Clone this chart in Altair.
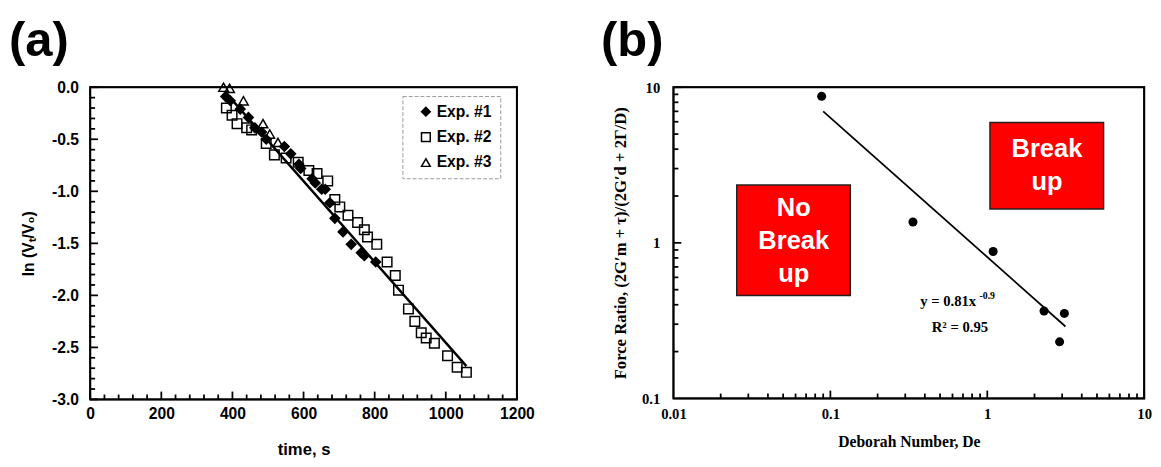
import altair as alt
import pandas as pd

# ---------------- data: panel (a) ----------------
series_names = ["Exp. #1", "Exp. #2", "Exp. #3"]

exp1_t = [381, 394, 422, 445, 463, 482, 495, 546, 564, 587, 592, 624, 633, 651, 661,
          674, 688, 711, 734, 762, 771, 803]
exp1_v = [-0.09, -0.13, -0.21, -0.29, -0.39, -0.43, -0.50, -0.57, -0.64, -0.74, -0.78,
          -0.88, -0.92, -0.98, -0.98, -1.11, -1.26, -1.39, -1.51, -1.59, -1.62, -1.68]

exp2_t = [383, 399, 413, 440, 454, 495, 518, 551, 585, 615, 638, 668, 688, 702, 725,
          752, 771, 780, 806, 835, 858, 867, 895, 913, 931, 945, 968, 1005, 1032, 1058]
exp2_v = [-0.20, -0.27, -0.35, -0.39, -0.41, -0.54, -0.65, -0.68, -0.72, -0.80, -0.83,
          -0.90, -1.08, -1.15, -1.23, -1.30, -1.37, -1.44, -1.51, -1.68, -1.81, -1.95,
          -2.13, -2.25, -2.36, -2.41, -2.46, -2.58, -2.69, -2.74]

exp3_t = [375, 392, 431, 486, 505, 528]
exp3_v = [0.0, -0.01, -0.13, -0.35, -0.45, -0.53]

fit_a_t = [378, 1058]
fit_a_v = [-0.04, -2.68]

xa_labels = [0, 200, 400, 600, 800, 1000, 1200]
xa_minor = [40, 80, 120, 160, 240, 280, 320, 360, 440, 480, 520, 560, 640, 680, 720,
            760, 840, 880, 920, 960, 1040, 1080, 1120, 1160]
ya_labels = [-3.0, -2.5, -2.0, -1.5, -1.0, -0.5, 0.0]
ya_minor = [-2.9, -2.8, -2.7, -2.6, -2.4, -2.3, -2.2, -2.1, -1.9, -1.8, -1.7, -1.6,
            -1.4, -1.3, -1.2, -1.1, -0.9, -0.8, -0.7, -0.6, -0.4, -0.3, -0.2, -0.1]

# ---------------- data: panel (b) ----------------
de_vals = [0.088, 0.336, 1.09, 2.30, 2.89, 3.10]
fr_vals = [8.74, 1.36, 0.88, 0.365, 0.231, 0.352]
fit_b_de = [0.09, 3.15]
fit_b_fr = [7.0, 0.29]

xb_labels = [0.01, 0.1, 1, 10]
xb_minor = [0.02, 0.03, 0.04, 0.05, 0.06, 0.07, 0.08, 0.09,
            0.2, 0.3, 0.4, 0.5, 0.6, 0.7, 0.8, 0.9,
            2, 3, 4, 5, 6, 7, 8, 9]
yb_labels = [0.1, 1, 10]
yb_minor = [0.2, 0.3, 0.4, 0.5, 0.6, 0.7, 0.8, 0.9,
            2, 3, 4, 5, 6, 7, 8, 9]

FONT_A = "Liberation Sans"
FONT_B = "Liberation Serif"
W_A, H_A = 436, 319
W_B, H_B = 481, 318
XA_DOM, YA_DOM = [0, 1200], [-3, 0]
XB_DOM, YB_DOM = [0.01, 10], [0.1, 10]

common = dict(ticks=False, domain=False, grid=False, labelOverlap=False, labelFlush=False,
              labelColor="black", titleColor="black", labelFontWeight="bold",
              titleFontWeight="bold")

# ---------------- shared scales / axes ----------------
xs_a = alt.Scale(domain=XA_DOM, nice=False, zero=False)
ys_a = alt.Scale(domain=YA_DOM, nice=False, zero=False)
ax_xa = alt.Axis(values=xa_labels, format="d", title="time, s", orient="bottom",
                 labelFont=FONT_A, labelFontSize=16, labelPadding=7,
                 titleFont=FONT_A, titleFontSize=17, titlePadding=20, **common)
ax_ya = alt.Axis(values=ya_labels, title="ln (Vₜ/V₀)", orient="left",
                 labelExpr="replace(format(datum.value, '.1f'), '\u2212', '-')",
                 labelFont=FONT_A, labelFontSize=16, labelPadding=12,
                 titleFont=FONT_A, titleFontSize=16, titlePadding=15, **common)

xs_b = alt.Scale(type="log", domain=XB_DOM, nice=False)
ys_b = alt.Scale(type="log", domain=YB_DOM, nice=False)
ax_xb = alt.Axis(values=xb_labels, format="~g", title="Deborah Number, De", orient="bottom",
                 labelFont=FONT_B, labelFontSize=15, labelPadding=9,
                 titleFont=FONT_B, titleFontSize=16, titlePadding=12, **common)
ax_yb = alt.Axis(values=yb_labels, format="~g", orient="left",
                 title="Force Ratio, (2G′m + τ)/(2G′d + 2Γ/D)",
                 labelFont=FONT_B, labelFontSize=15, labelPadding=14,
                 titleFont=FONT_B, titleFontSize=17, titlePadding=12, **common)


def px_to_data(dom, npx, length, log):
    """Data value lying `length` pixels inside the lower end of a domain."""
    if log:
        return dom[0] * (dom[1] / dom[0]) ** (length / npx)
    return dom[0] + (dom[1] - dom[0]) * length / npx


def deco_frame(xdom, ydom, w, h, log, xmaj, xmin, ymaj, ymin):
    """Frame and inward ticks as short line segments (one group per segment)."""
    recs = []
    g = 0
    for seq in ([(xdom[0], ydom[0]), (xdom[1], ydom[0]), (xdom[1], ydom[1]),
                 (xdom[0], ydom[1]), (xdom[0], ydom[0])],):
        for i, (x, y) in enumerate(seq):
            recs.append({"x": x, "y": y, "g": g, "i": i, "w": 2.0})
        g += 1
    for vals, length in ((xmaj, 8), (xmin, 5)):
        yin = px_to_data(ydom, h, length, log)
        for v in vals:
            recs.append({"x": v, "y": ydom[0], "g": g, "i": 0, "w": 1.5})
            recs.append({"x": v, "y": yin, "g": g, "i": 1, "w": 1.5})
            g += 1
    for vals, length in ((ymaj, 8), (ymin, 5)):
        xin = px_to_data(xdom, w, length, log)
        for v in vals:
            recs.append({"x": xdom[0], "y": v, "g": g, "i": 0, "w": 1.5})
            recs.append({"x": xin, "y": v, "g": g, "i": 1, "w": 1.5})
            g += 1
    return pd.DataFrame(recs)


# ---------------- panel (a) ----------------
rows = []
for name, ts, vs in zip(series_names, [exp1_t, exp2_t, exp3_t], [exp1_v, exp2_v, exp3_v]):
    for t, v in zip(ts, vs):
        rows.append({"t": t, "v": v, "series": name})
df_a = pd.DataFrame(rows)

leg = alt.Legend(title=None, orient="none", legendX=319, legendY=9,
                 labelFont=FONT_A, labelFontSize=16, labelFontWeight="bold",
                 labelColor="black", strokeColor="#999999", padding=8,
                 rowPadding=10, symbolSize=80, symbolStrokeWidth=1.5,
                 symbolOffset=8, labelOffset=3)

pts_a = alt.Chart(df_a).mark_point(filled=False, color="black", strokeWidth=1.5,
                                   opacity=1, size=95).encode(
    x=alt.X("t:Q", scale=xs_a, axis=ax_xa),
    y=alt.Y("v:Q", scale=ys_a, axis=ax_ya),
    shape=alt.Shape("series:N", scale=alt.Scale(domain=series_names,
                                                range=["diamond", "square", "triangle-up"]),
                    legend=leg),
    fill=alt.Fill("series:N", scale=alt.Scale(domain=series_names,
                                              range=["black", "transparent", "transparent"]),
                  legend=leg),
)

fit_a = alt.Chart(pd.DataFrame({"t": fit_a_t, "v": fit_a_v})).mark_line(
    color="black", strokeWidth=2.5).encode(
    x=alt.X("t:Q", scale=xs_a, axis=ax_xa), y=alt.Y("v:Q", scale=ys_a, axis=ax_ya))

deco_a = alt.Chart(deco_frame(XA_DOM, YA_DOM, W_A, H_A, False, xa_labels, xa_minor,
                              ya_labels, ya_minor)).mark_line(
    color="black", strokeWidth=1.8).encode(
    x=alt.X("x:Q", scale=xs_a, axis=ax_xa), y=alt.Y("y:Q", scale=ys_a, axis=ax_ya),
    detail="g:N", order="i:Q")

label_a = alt.Chart(pd.DataFrame({"lab": ["(a)"]})).mark_text(
    align="left", baseline="alphabetic", fontSize=50, fontWeight="bold", font=FONT_A,
    color="black").encode(text="lab:N", x=alt.value(-83), y=alt.value(-32))

chart_a = alt.layer(fit_a, deco_a, pts_a, label_a).properties(width=W_A, height=H_A)

# ---------------- panel (b) ----------------
pts_b = alt.Chart(pd.DataFrame({"de": de_vals, "fr": fr_vals})).mark_circle(
    color="black", size=85, opacity=1).encode(
    x=alt.X("de:Q", scale=xs_b, axis=ax_xb), y=alt.Y("fr:Q", scale=ys_b, axis=ax_yb))

fit_b = alt.Chart(pd.DataFrame({"de": fit_b_de, "fr": fit_b_fr})).mark_line(
    color="black", strokeWidth=1.8).encode(
    x=alt.X("de:Q", scale=xs_b, axis=ax_xb), y=alt.Y("fr:Q", scale=ys_b, axis=ax_yb))

deco_b = alt.Chart(deco_frame(XB_DOM, YB_DOM, W_B, H_B, True, xb_labels[1:], xb_minor,
                              yb_labels[1:], yb_minor)).mark_line(
    color="black", strokeWidth=1.8).encode(
    x=alt.X("x:Q", scale=xs_b, axis=ax_xb), y=alt.Y("y:Q", scale=ys_b, axis=ax_yb),
    detail="g:N", order="i:Q")

# annotation boxes, in the panel's data coordinates (text y = first line)
boxes = pd.DataFrame({
    "x1": [0.0253, 1.04], "x2": [0.134, 5.51],
    "y1": [0.459, 1.65], "y2": [2.35, 5.94],
    "xc": [0.0584, 2.40], "yc": [1.672, 3.99],
    "txt": ["No\nBreak\nup", "Break\nup"],
})
rect_b = alt.Chart(boxes).mark_rect(fill="#ff0000", stroke="#222222", strokeWidth=1.5).encode(
    x=alt.X("x1:Q", scale=xs_b, axis=ax_xb), x2="x2:Q",
    y=alt.Y("y1:Q", scale=ys_b, axis=ax_yb), y2="y2:Q")
rect_txt = alt.Chart(boxes).mark_text(
    lineBreak="\n", lineHeight=34, fontSize=26, fontWeight="bold", font=FONT_A,
    color="white", align="center", baseline="middle").encode(
    x=alt.X("xc:Q", scale=xs_b, axis=ax_xb), y=alt.Y("yc:Q", scale=ys_b, axis=ax_yb),
    text="txt:N")

eq_center = pd.DataFrame({"x": [0.563, 0.669], "y": [0.42, 0.288],
                          "txt": ["y = 0.81x", "R² = 0.95"]})
eq_super = pd.DataFrame({"x": [0.892], "y": [0.457], "txt": ["-0.9"]})
eq_main = alt.Chart(eq_center).mark_text(
    font=FONT_B, fontWeight="bold", fontSize=15, color="black", align="center",
    baseline="middle").encode(x=alt.X("x:Q", scale=xs_b, axis=ax_xb),
                              y=alt.Y("y:Q", scale=ys_b, axis=ax_yb), text="txt:N")
eq_sup = alt.Chart(eq_super).mark_text(
    font=FONT_B, fontWeight="bold", fontSize=10, color="black", align="left",
    baseline="middle").encode(x=alt.X("x:Q", scale=xs_b, axis=ax_xb),
                              y=alt.Y("y:Q", scale=ys_b, axis=ax_yb), text="txt:N")

label_b = alt.Chart(pd.DataFrame({"lab": ["(b)"]})).mark_text(
    align="left", baseline="alphabetic", fontSize=50, fontWeight="bold", font=FONT_A,
    color="black").encode(text="lab:N", x=alt.value(-74), y=alt.value(-32))

chart_b = alt.layer(rect_b, rect_txt, fit_b, deco_b, pts_b, eq_main, eq_sup,
                    label_b).properties(width=W_B, height=H_B)

chart = alt.hconcat(chart_a, chart_b, spacing=66).properties(
    padding={"left": 0, "top": 3, "right": 0, "bottom": 0}
).configure_view(stroke="black", strokeWidth=2).configure_legend(strokeDash=[4, 2])

chart.save("out.html", embed_options={"renderer": "svg", "actions": False})
